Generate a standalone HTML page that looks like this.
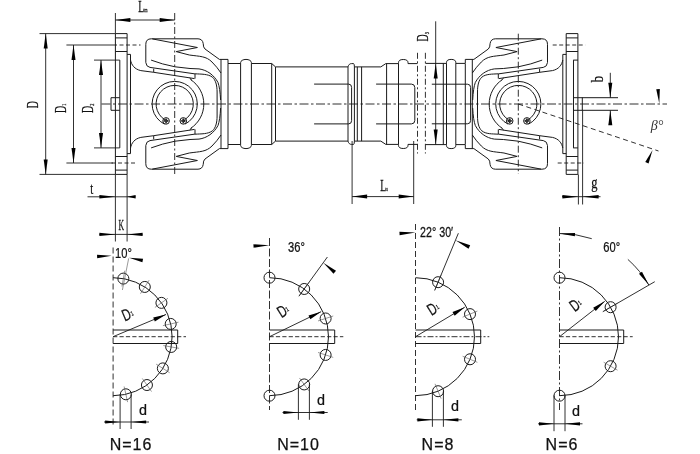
<!DOCTYPE html>
<html><head><meta charset="utf-8"><title>Cardan shaft drawing</title>
<style>
html,body{margin:0;padding:0;background:#fff;}
body{width:700px;height:454px;overflow:hidden;}
svg{display:block;}
.ln path,.ln circle,.ln use{fill:none;stroke:#1a1a1a;stroke-width:1;}
.cl path{fill:none;stroke:#1a1a1a;stroke-width:0.9;}
.dm path{fill:none;stroke:#1a1a1a;stroke-width:0.9;}
.tk path{fill:none;stroke:#555;stroke-width:0.6;}
.ar{fill:#000;stroke:none;}
text{fill:#111;stroke:#111;stroke-width:0.25px;}
.sf{font-family:"Liberation Serif",serif;font-size:16.5px;}
.sf2{font-family:"Liberation Serif",serif;font-size:14px;}
.sub{font-size:7px;}
.sub2{font-size:6.5px;}
.bt{font-family:"Liberation Serif",serif;font-style:italic;font-size:14px;stroke-width:0;fill:#333;}
.nr{font-family:"Liberation Sans",sans-serif;font-size:15.5px;}
.it{font-family:"Liberation Sans",sans-serif;font-size:16.5px;}
.nn{font-family:"Liberation Sans",sans-serif;font-size:16px;letter-spacing:1px;}
</style></head>
<body>
<svg width="700" height="454" viewBox="0 0 700 454">
<rect width="700" height="454" fill="#fff"/>
<defs>
<g id="q">
<path d="M115.4,33.6 H127.1"/>
<path d="M115.4,37.9 H127.1"/>
<path d="M115.4,51.5 H127.1"/>
<path d="M127.1,54.4 H130.5 V104"/>
<path d="M119.8,60.1 V104"/>
<path d="M130.5,60 C131.5,65 134.5,69.2 140.8,70.6 L153.7,72.3 L194.5,78.6"/>
<path d="M153.7,68.7 V72.3"/>
<path d="M195,73.9 V78.6"/>
<path d="M189.6,78 L191.8,80"/>
<path d="M145.8,62.5 V44.3 Q145.8,38.8 151.3,38.8 H198 Q202.5,39 203.2,43.5 Q203.2,47.5 205,49 L219.4,59.4 H228 V63.5"/>
<path d="M145.8,62.5 Q146.2,66.8 150,67.4 L195,73.9"/>
<path d="M151.1,60.1 Q162,64.3 175,66.8 L190,68.5 L199,68.9 C207,70 214,75 218,82.5 Q220,88 220.6,100"/>
<path d="M152.3,38.9 L197.4,47.5 L176.2,51.6 L189.3,55 C200,56.5 206,56 212,62 Q217,67 221,73"/>
<path d="M221,59.4 V104"/>
<path d="M228,63.5 V104"/>
</g>
<g id="half"><use href="#q"/><use href="#q" transform="translate(0,208.0) scale(1,-1)"/><path d="M115.4,33.6 V174.4"/><path d="M127.1,33.6 V174.4"/><path d="M119.8,97.7 H111 V110.3 H119.8"/></g>
</defs>
<g class="ln">
<use href="#half"/>
<use href="#half" transform="translate(693.3,0) scale(-1,1)"/>
<g id="cbl"><path d="M195,73.8 C201,74.2 208,73.8 212.5,77.2 C215.5,80 217.1,85 217.1,92 V104"/></g><use href="#cbl" transform="translate(0,208.0) scale(1,-1)"/>
<g transform="translate(693.3,0) scale(-1,1)"><g id="cbr"><path d="M195,73.8 C201,74.2 207.5,73.8 211.5,77.2 C214.5,80 215.8,85 215.8,92 V104"/></g><use href="#cbr" transform="translate(0,208.0) scale(1,-1)"/></g>
<path d="M164.44,124.14 A22.6,22.6 0 1 1 184.96,124.14"/><path d="M164.84,119.77 A18.6,18.6 0 1 1 184.56,119.77"/><circle cx="166.1" cy="120.9" r="3.3"/><circle cx="166.1" cy="120.9" r="1.35" fill="#1a1a1a" stroke="none"/><path d="M163.5,120.9 H168.7 M166.1,118.30000000000001 V123.5" stroke-width="0.45"/><circle cx="183.29999999999998" cy="120.9" r="3.3"/><circle cx="183.29999999999998" cy="120.9" r="1.35" fill="#1a1a1a" stroke="none"/><path d="M180.7,120.9 H185.89999999999998 M183.29999999999998,118.30000000000001 V123.5" stroke-width="0.45"/>
<path d="M508.04,124.14 A22.6,22.6 0 1 1 528.56,124.14"/><path d="M508.44,119.77 A18.6,18.6 0 1 1 528.16,119.77"/><circle cx="509.69999999999993" cy="120.9" r="3.3"/><circle cx="509.69999999999993" cy="120.9" r="1.35" fill="#1a1a1a" stroke="none"/><path d="M507.0999999999999,120.9 H512.3 M509.69999999999993,118.30000000000001 V123.5" stroke-width="0.45"/><circle cx="526.9" cy="120.9" r="3.3"/><circle cx="526.9" cy="120.9" r="1.35" fill="#1a1a1a" stroke="none"/><path d="M524.3,120.9 H529.5 M526.9,118.30000000000001 V123.5" stroke-width="0.45"/>
<path d="M190.55,79.59 A29.1,29.1 0 0 1 190.55,128.41"/>
<path d="M502.45,79.59 A29.1,29.1 0 0 0 502.45,128.41"/>
<g id="sh">
<path d="M228,63.5 H240.6 V62.6 A5.4,3.2 0 0 1 251.4,62.6 V63.5 H271.7 L275.5,66.9 H348 C348.5,64.5 350,63.6 351.5,63.6 H353.6 Q354.4,64 354.4,66.9 H380.8 L385.8,63.6 H398.5 V62.7 A4.75,3.2 0 0 1 408,62.7 V63.6 H417.4"/>
<path d="M425.5,63.4 H446.5 V62.6 A4.65,3.2 0 0 1 455.8,62.6 V63.4 H465"/>
<path d="M240.6,63.5 V104"/><path d="M251.4,63.5 V104"/>
<path d="M271.7,63.5 V104"/><path d="M275.5,66.9 V104"/>
<path d="M348,66.9 V104"/><path d="M354.4,66.9 V104"/><path d="M357.3,66.9 V104"/><path d="M361.6,66.9 V104"/>
<path d="M314.1,84.1 H348.6 Q351.6,84.1 351.6,87.4 V104"/>
<path d="M386.6,63.6 V104"/><path d="M398.5,63.6 V104"/>
<path d="M376.1,84.1 H411.4 Q414.8,84.1 414.8,87.6 V104"/>
<path d="M443.3,63.4 V104"/><path d="M446.5,63.4 V104"/><path d="M455.8,63.4 V104"/>
<path d="M431.8,84.2 H467.4 Q470.6,84.2 470.6,87.5 V104"/>
</g>
<use href="#sh" transform="translate(0,208.0) scale(1,-1)"/>
<path d="M582,97.7 H618"/><path d="M582,110.3 H618"/><path d="M573.2,60.1 H577.9"/><path d="M573.2,147.9 H577.9"/>
</g>
<g class="cl">
<path d="M101.5,104.0 H667" stroke-dasharray="9 2.5 2.5 2.5"/>
<path d="M174.7,13 V174" stroke-dasharray="7 2.5 2 2.5"/>
<path d="M518.3,33.7 V174" stroke-dasharray="7 2.5 2 2.5"/>
<path d="M417.5,52.8 V153.5" stroke-dasharray="6 2.5 2 2.5"/>
<path d="M425.4,52.8 V153.5" stroke-dasharray="6 2.5 2 2.5"/>
<path d="M113,45 H140.5" stroke-dasharray="4 2.5"/>
<path d="M111.5,163 H135.5" stroke-dasharray="4 2.5"/>
<path d="M552.7,45 H585.3" stroke-dasharray="4 2.5"/>
<path d="M557.7,163 H584" stroke-dasharray="4 2.5"/>
<path d="M518.3,104 L658.5,151" stroke-dasharray="5 3.5" stroke-width="0.6" stroke="#333"/>
</g>
<g class="dm">
<path d="M39.5,33.6 H115.4"/><path d="M39.5,174.4 H115.4"/><path d="M45.7,33.6 V174.4"/>
<polygon class="ar" points="45.70,33.60 47.70,48.60 43.70,48.60"/>
<polygon class="ar" points="45.70,174.40 43.70,159.40 47.70,159.40"/>
<path d="M66.4,45 H113"/><path d="M66.4,163 H113"/><path d="M73.5,45 V163"/>
<polygon class="ar" points="73.50,45.00 75.50,60.00 71.50,60.00"/>
<polygon class="ar" points="73.50,163.00 71.50,148.00 75.50,148.00"/>
<path d="M94,60.1 H119.8"/><path d="M94,147.9 H119.8"/><path d="M101,60.1 V147.9"/>
<polygon class="ar" points="101.00,60.10 103.00,75.10 99.00,75.10"/>
<polygon class="ar" points="101.00,147.90 99.00,132.90 103.00,132.90"/>
<path d="M115.4,13 V33.6"/><path d="M115.4,20 H174.7"/>
<polygon class="ar" points="115.40,20.00 130.40,18.00 130.40,22.00"/>
<polygon class="ar" points="174.70,20.00 159.70,22.00 159.70,18.00"/>
<path d="M115.4,174.4 V241.5"/><path d="M127.1,174.4 V241.5"/>
<path d="M87.5,196.8 H135.5"/>
<polygon class="ar" points="115.40,196.80 99.40,198.50 99.40,195.10"/>
<polygon class="ar" points="127.10,196.80 135.60,195.10 135.60,198.50"/>
<path d="M99.4,234.4 H142.4"/>
<polygon class="ar" points="115.40,234.40 99.40,236.10 99.40,232.70"/>
<polygon class="ar" points="127.10,234.40 142.60,232.70 142.60,236.10"/>
<path d="M352.1,141 V204"/><path d="M413.7,141 V204"/><path d="M352.1,196.6 H413.7"/>
<polygon class="ar" points="352.10,196.60 367.10,194.60 367.10,198.60"/>
<polygon class="ar" points="413.70,196.60 398.70,198.60 398.70,194.60"/>
<path d="M435.7,21.3 V144.5"/>
<polygon class="ar" points="435.70,63.60 437.70,78.60 433.70,78.60"/>
<polygon class="ar" points="435.70,144.50 433.70,129.50 437.70,129.50"/>
<path d="M610.3,72.8 V97.7"/><path d="M610.3,110.3 V125"/>
<polygon class="ar" points="610.30,97.70 608.30,82.70 612.30,82.70"/>
<polygon class="ar" points="610.30,110.30 612.30,125.30 608.30,125.30"/>
<path d="M578.4,174.4 V204.5"/><path d="M582.6,110.3 V204.5"/><path d="M562,196.7 H600.5"/>
<polygon class="ar" points="578.40,196.70 562.40,198.40 562.40,195.00"/>
<polygon class="ar" points="582.60,196.70 598.60,195.00 598.60,198.40"/>
<polygon class="ar" points="659.30,103.60 656.24,89.31 659.83,89.00"/>
<polygon class="ar" points="652.60,150.00 648.55,163.52 645.26,162.06"/>
</g>
<g class="ln"><path d="M113.1,277.7 A59,59 0 0 1 113.1,395.7"/><circle cx="123.35" cy="278.60" r="5.5"/><circle cx="144.80" cy="286.94" r="5.5"/><circle cx="161.43" cy="302.86" r="5.5"/><circle cx="170.70" cy="323.93" r="5.5"/><circle cx="171.20" cy="346.95" r="5.5"/><circle cx="162.86" cy="368.40" r="5.5"/><circle cx="146.94" cy="385.03" r="5.5"/><circle cx="125.87" cy="394.30" r="5.5"/><path d="M113.1,330 H177.7 V343.5 H113.1"/></g><g class="tk"><path d="M121.96,286.47 L124.73,270.72"/><path d="M140.50,293.69 L149.10,280.19"/><path d="M154.88,307.45 L167.98,298.27"/><path d="M162.89,325.66 L178.51,322.20"/><path d="M163.33,345.56 L179.08,348.33"/><path d="M156.11,364.10 L169.61,372.70"/><path d="M142.35,378.48 L151.53,391.58"/><path d="M124.14,386.49 L127.60,402.11"/></g><g class="cl"><path d="M113.1,247.5 V425" stroke-dasharray="6 3"/><path d="M113.1,336.7 H186" stroke-dasharray="4.2 2.2" stroke-width="0.8"/></g><g class="dm"><path d="M113.1,336.7 L166.01,314.46"/><polygon class="ar" points="166.01,314.46 154.84,321.43 153.22,317.56"/></g>
<g class="ln"><path d="M269.5,277.7 A59,59 0 0 1 269.5,395.7"/><circle cx="269.50" cy="277.70" r="5.5"/><circle cx="304.18" cy="288.97" r="5.5"/><circle cx="325.61" cy="318.47" r="5.5"/><circle cx="325.61" cy="354.93" r="5.5"/><circle cx="304.18" cy="384.43" r="5.5"/><circle cx="269.50" cy="395.70" r="5.5"/><path d="M269.5,330 H334.7 V343.5 H269.5"/></g><g class="tk"><path d="M299.48,295.44 L308.88,282.50"/><path d="M318.00,320.94 L333.22,316.00"/><path d="M318.00,352.46 L333.22,357.40"/><path d="M299.48,377.96 L308.88,390.90"/></g><g class="cl"><path d="M269.5,238 V410" stroke-dasharray="8 2.5"/><path d="M269.5,336.7 H343.3" stroke-dasharray="4.2 2.2" stroke-width="0.8"/></g><g class="dm"><path d="M269.5,336.7 L321.13,311.63"/><polygon class="ar" points="321.13,311.63 310.36,319.20 308.52,315.42"/></g>
<g class="ln"><path d="M415.5,277.7 A59,59 0 0 1 415.5,395.7"/><circle cx="438.08" cy="282.19" r="5.5"/><circle cx="470.01" cy="314.12" r="5.5"/><circle cx="470.01" cy="359.28" r="5.5"/><circle cx="438.08" cy="391.21" r="5.5"/><path d="M415.5,330 H480.7 V343.5 H415.5"/></g><g class="tk"><path d="M435.02,289.58 L441.14,274.80"/><path d="M462.62,317.18 L477.40,311.06"/><path d="M462.62,356.22 L477.40,362.34"/><path d="M435.02,383.82 L441.14,398.60"/></g><g class="cl"><path d="M415.5,224 V410.5" stroke-dasharray="6 3"/><path d="M415.5,336.7 H489.3" stroke-dasharray="6 2 2 2" stroke-width="0.8"/></g><g class="dm"><path d="M415.5,336.7 L464.75,307.22"/><polygon class="ar" points="464.75,307.22 454.68,315.70 452.52,312.10"/></g>
<g class="ln"><path d="M559.5,277.7 A59,59 0 0 1 559.5,395.7"/><circle cx="559.50" cy="277.70" r="5.5"/><circle cx="610.60" cy="307.20" r="5.5"/><circle cx="610.60" cy="366.20" r="5.5"/><circle cx="559.50" cy="395.70" r="5.5"/><path d="M559.5,330 H623.7 V343.5 H559.5"/></g><g class="tk"><path d="M603.67,311.20 L617.52,303.20"/><path d="M603.67,362.20 L617.52,370.20"/></g><g class="cl"><path d="M559.5,227 V410" stroke-dasharray="9 2.5 2 2.5"/><path d="M559.5,336.7 H632.7" stroke-dasharray="4.2 2.2" stroke-width="0.8"/></g><g class="dm"><path d="M559.5,336.7 L604.73,301.36"/><polygon class="ar" points="604.73,301.36 595.78,311.02 593.19,307.71"/></g>
<g class="dm">
<path d="M120.1,394.3 V429"/><path d="M131.1,394.3 V429"/><path d="M104,422 H149"/><polygon class="ar" points="120.10,422.00 105.10,423.60 105.10,420.40"/><polygon class="ar" points="131.10,422.00 146.10,420.40 146.10,423.60"/>
<path d="M298.4,384.2 V419.8"/><path d="M309.4,384.2 V419.8"/><path d="M282.5,412.5 H327.7"/><polygon class="ar" points="298.40,412.50 283.40,414.10 283.40,410.90"/><polygon class="ar" points="309.40,412.50 324.40,410.90 324.40,414.10"/>
<path d="M432.4,390.9 V426.8"/><path d="M443.4,390.9 V426.8"/><path d="M416.7,419.8 H461.8"/><polygon class="ar" points="432.40,419.80 417.40,421.40 417.40,418.20"/><polygon class="ar" points="443.40,419.80 458.40,418.20 458.40,421.40"/>
<path d="M554.0,395.4 V431.2"/><path d="M565.0,395.4 V431.2"/><path d="M538,423.8 H582.5"/><polygon class="ar" points="554.00,423.80 539.00,425.40 539.00,422.20"/><polygon class="ar" points="565.00,423.80 580.00,422.20 580.00,425.40"/>
<polygon class="ar" points="111.60,255.70 97.21,258.16 97.03,254.76"/>
<polygon class="ar" points="129.00,257.80 143.09,258.70 142.40,262.24"/>
</g><g class="tk"><path d="M128.7,258.3 L122.4,290"/></g><g class="dm">
<polygon class="ar" points="269.50,245.20 253.61,247.74 253.43,244.34"/>
<path d="M298.89,296.25 L327.40,257.01" stroke-width="0.8"/>
<polygon class="ar" points="323.28,262.67 335.99,270.86 333.55,273.77"/>
<polygon class="ar" points="415.50,232.60 399.61,235.14 399.43,231.74"/>
<path d="M434.63,290.51 L458.36,233.23" stroke-width="0.6" stroke="#444"/>
<polygon class="ar" points="455.49,240.15 470.21,245.37 468.51,248.77"/>
<path d="M602.80,311.70 L654.76,281.70"/>
<path d="M559.50,233.50 A103.2,103.2 0 0 1 591.73,238.66"/>
<path d="M627.88,259.41 A103.2,103.2 0 0 1 648.87,285.10"/>
<polygon class="ar" points="559.50,233.50 575.08,232.89 574.84,236.28"/>
<polygon class="ar" points="648.87,285.10 638.99,273.67 641.98,271.66"/>
</g>
<g style="opacity:0.999">
<text class="sf" text-anchor="start" transform="translate(138.3 11.8) scale(0.6 1)">L<tspan class="sub" dy="0.5">m</tspan></text>
<text class="sf" text-anchor="start" transform="translate(37.9 108.2) rotate(-90) scale(0.6 1)">D</text>
<text class="sf" text-anchor="start" transform="translate(65.6 113) rotate(-90) scale(0.6 1)">D<tspan class="sub" dy="0.5">1</tspan></text>
<text class="sf" text-anchor="start" transform="translate(93 113) rotate(-90) scale(0.6 1)">D<tspan class="sub" dy="0.5">2</tspan></text>
<text class="sf" text-anchor="middle" transform="translate(91.8 193.7) scale(0.65 1)">t</text>
<text class="sf2" text-anchor="middle" transform="translate(121.2 230.2) scale(0.55 1)">K</text>
<text class="sf" text-anchor="start" transform="translate(380.3 190.9) scale(0.6 1)">L<tspan class="sub" dy="0.5">s</tspan></text>
<text class="sf" text-anchor="start" transform="translate(428.3 41.5) rotate(-90) scale(0.6 1)">D<tspan class="sub" dy="0.5">3</tspan></text>
<text class="sf" text-anchor="start" transform="translate(603 82.5) rotate(-90) scale(0.8 1)">b</text>
<text class="sf" text-anchor="middle" transform="translate(594.3 187.5) scale(0.75 1)">g</text>
<text class="bt" text-anchor="middle" transform="translate(657 130)">β°</text>
<text class="nr" text-anchor="middle" transform="translate(123.4 258.3) scale(0.72 1)">10°</text>
<text class="nr" text-anchor="middle" transform="translate(296.4 252.3) scale(0.72 1)">36°</text>
<text class="nr" text-anchor="middle" transform="translate(436.6 237) scale(0.69 1)">22° 30′</text>
<text class="nr" text-anchor="middle" transform="translate(611.7 252.2) scale(0.72 1)">60°</text>
<text class="nr" text-anchor="middle" transform="translate(143.1 414.7) scale(0.93 1)">d</text>
<text class="nr" text-anchor="middle" transform="translate(321 404.7) scale(0.93 1)">d</text>
<text class="nr" text-anchor="middle" transform="translate(455.1 411.2) scale(0.93 1)">d</text>
<text class="nr" text-anchor="middle" transform="translate(576 415.7) scale(0.93 1)">d</text>
<text class="it" text-anchor="start" transform="translate(124.8 321.6) rotate(-23) scale(0.7 1)">D<tspan class="sub2" dy="-2.5" dx="0.3">1</tspan></text>
<text class="it" text-anchor="start" transform="translate(281.4 318.3) rotate(-32) scale(0.7 1)">D<tspan class="sub2" dy="-2.5" dx="0.3">1</tspan></text>
<text class="it" text-anchor="start" transform="translate(431.5 316.1) rotate(-32) scale(0.7 1)">D<tspan class="sub2" dy="-2.5" dx="0.3">1</tspan></text>
<text class="it" text-anchor="start" transform="translate(574.8 312.3) rotate(-37) scale(0.7 1)">D<tspan class="sub2" dy="-2.5" dx="0.3">1</tspan></text>
<text class="nn" text-anchor="middle" transform="translate(131 450)">N=16</text>
<text class="nn" text-anchor="middle" transform="translate(298.5 450)">N=10</text>
<text class="nn" text-anchor="middle" transform="translate(438 450)">N=8</text>
<text class="nn" text-anchor="middle" transform="translate(562 450)">N=6</text>
</g>
</svg>
</body></html>
